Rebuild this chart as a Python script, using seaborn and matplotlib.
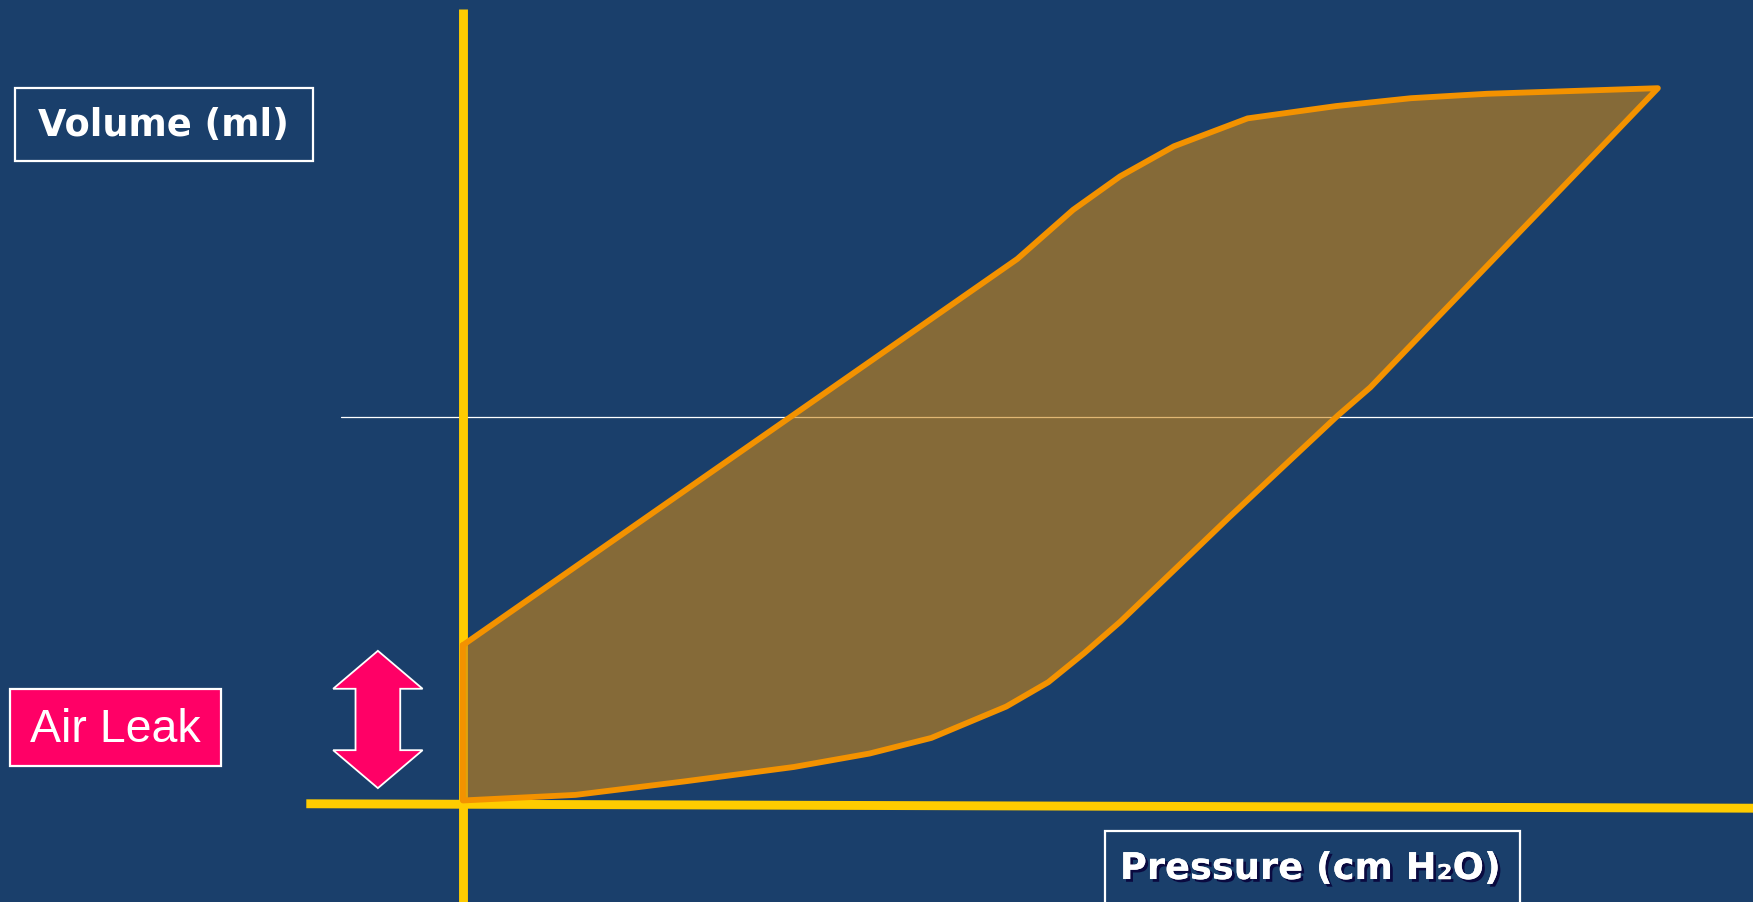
import matplotlib
matplotlib.use("Agg")
import matplotlib.pyplot as plt
import matplotlib.patches as mpatches
import matplotlib.patheffects as pe
import seaborn as sns
import pandas as pd

# ---- data (pressure in cm H2O, volume in ml) ----
upper_pressure = [0.0, 13.92, 15.32, 16.50, 17.85, 19.70, 21.92, 23.80, 25.71, 30.0]
upper_volume = [110.8, 380.7, 415.0, 438.4, 459.4, 478.9, 487.5, 493.0, 496.1, 500.0]
lower_pressure = [0.0, 2.83, 5.56, 8.31, 10.21, 11.76, 13.64, 14.70, 15.60, 16.50,
                  19.25, 21.97, 22.78, 30.0]
lower_volume = [2.3, 6.2, 15.6, 25.7, 35.1, 46.0, 67.9, 85.0, 105.3, 127.1,
                200.5, 271.4, 290.9, 500.0]
reference_volume = 269.9
y_label = "Volume (ml)"
x_label = "Pressure (cm H\u2082O)"
leak_label = "Air Leak"

# ---- colours ----
BG = "#1A3F6B"
YELLOW = "#FFCC00"
ORANGE = "#F39200"
FILL = "#CE8716"
PINK = "#FF0066"

W, H = 1568.0, 808.0  # reference layout grid


def fx(px):
    return px / W


def fy(py):
    return 1 - py / H


sns.set_theme(style="white")
plt.rcParams["font.family"] = ["DejaVu Sans"]

fig = plt.figure(figsize=(17.53, 9.02), dpi=100)
fig.patch.set_facecolor(BG)
ax = fig.add_axes([0, 0, 1, 1])
ax.set_facecolor(BG)

# axes lines
ax.plot([0, 0], [-80, 555.4], color=YELLOW, lw=6.4, solid_capstyle="butt", zorder=2)
ax.plot([-3.93, 32.4], [0, -3.1], color=YELLOW, lw=6.4, solid_capstyle="butt", zorder=2)
# thin reference line
ax.plot([-3.06, 32.4], [reference_volume, reference_volume], color="white", lw=0.9, zorder=1)

# loop
loop_p = upper_pressure + lower_pressure[::-1] + [upper_pressure[0]]
loop_v = upper_volume + lower_volume[::-1] + [upper_volume[0]]
loop = pd.DataFrame({"pressure": loop_p, "volume": loop_v})
ax.fill(loop["pressure"], loop["volume"], color=FILL, alpha=0.6, zorder=3, lw=0)
sns.lineplot(data=loop, x="pressure", y="volume", sort=False, estimator=None,
             color=ORANGE, lw=4.2, ax=ax, zorder=4,
             solid_joinstyle="round", solid_capstyle="round")
ax.set_xlim(-414 / 35.63, 1154 / 35.63)
ax.set_ylim(-88 / 1.282, 720 / 1.282)
ax.axis("off")

# Volume label box
fig.patches.append(mpatches.Rectangle((fx(13), fy(144)), fx(280) - fx(13), fy(79) - fy(144),
                                      transform=fig.transFigure, facecolor="none",
                                      edgecolor="white", lw=1.6))
fig.text(fx(146), fy(112), y_label, color="white", fontsize=26.5, fontweight="bold",
         ha="center", va="center")

# Air leak box
fig.patches.append(mpatches.Rectangle((fx(9), fy(686)), fx(198) - fx(9), fy(617) - fy(686),
                                      transform=fig.transFigure, facecolor=PINK,
                                      edgecolor="white", lw=1.6))
fig.text(fx(103), fy(654), leak_label, color="white", fontsize=33.5,
         family=["Liberation Sans", "DejaVu Sans"], ha="center", va="center")

# double arrow
cx = 338
arrow_pts = [(cx, 583), (cx + 40, 617), (cx + 20, 617), (cx + 20, 672), (cx + 40, 672),
             (cx, 706), (cx - 40, 672), (cx - 20, 672), (cx - 20, 617), (cx - 40, 617)]
fig.patches.append(mpatches.Polygon([(fx(a), fy(b)) for a, b in arrow_pts], closed=True,
                                    transform=fig.transFigure, facecolor=PINK,
                                    edgecolor="white", lw=1.3))

# Pressure label box
fig.patches.append(mpatches.Rectangle((fx(988), fy(812)), fx(1360) - fx(988), fy(744) - fy(812),
                                      transform=fig.transFigure, facecolor="none",
                                      edgecolor="white", lw=1.6))
fig.text(fx(1172), fy(778), x_label, color="white", fontsize=26.5, fontweight="bold",
         ha="center", va="center",
         path_effects=[pe.withSimplePatchShadow(offset=(2, -2), shadow_rgbFace="#0A0A40", alpha=1),
                       pe.Normal()])

fig.savefig("out.png", dpi=100, facecolor=BG)
